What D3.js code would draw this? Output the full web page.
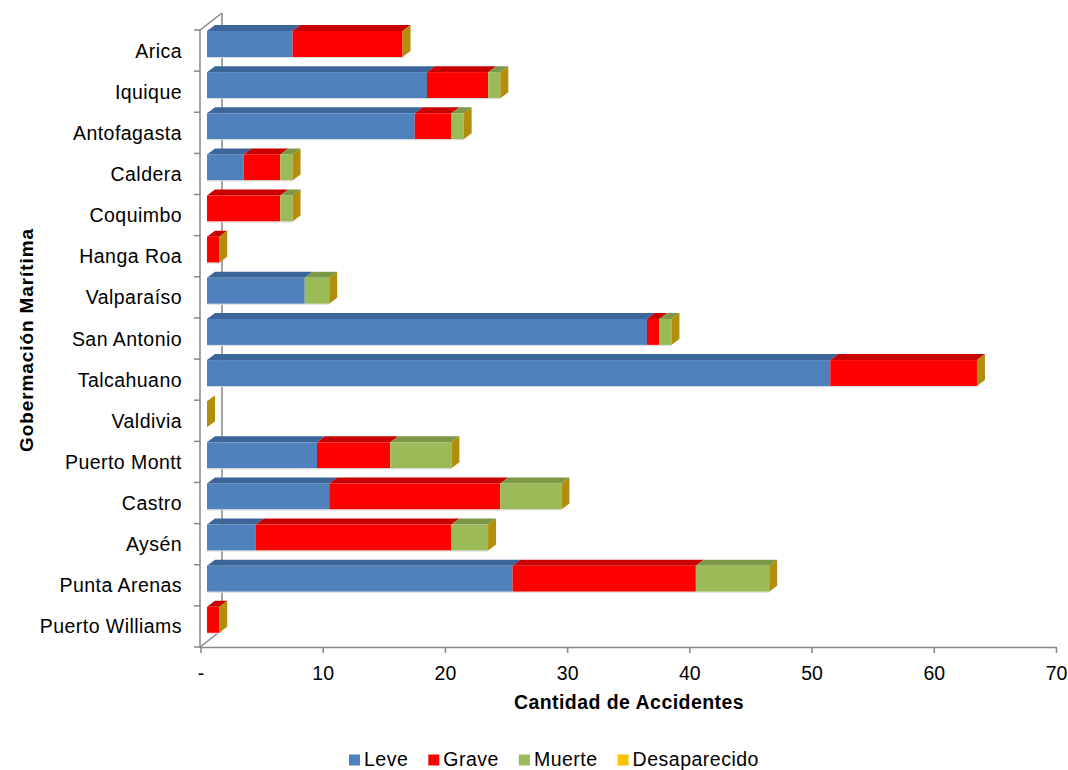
<!DOCTYPE html>
<html>
<head>
<meta charset="utf-8">
<script src="https://cdn.jsdelivr.net/npm/d3@7"></script>
<style>
  html, body { margin: 0; padding: 0; background: #fff; }
  svg { display: block; font-family: Arial, "Liberation Sans", sans-serif; }
</style>
</head>
<body>
<svg id="chart" width="1068" height="770"></svg>
<script>
// ---- data ----
const categories = ["Arica","Iquique","Antofagasta","Caldera","Coquimbo","Hanga Roa","Valparaíso","San Antonio","Talcahuano","Valdivia","Puerto Montt","Castro","Aysén","Punta Arenas","Puerto Williams"];
const seriesNames = ["Leve","Grave","Muerte","Desaparecido"];
const leve        = [7, 18, 17, 3, 0, 0, 8, 36, 51, 0, 9, 10, 4, 25, 0];
const grave       = [9,  5,  3, 3, 6, 1, 0,  1, 12, 0, 6, 14, 16, 15, 1];
const muerte      = [0,  1,  1, 1, 1, 0, 2,  1,  0, 0, 5,  5,  3,  6, 0];
const desaparecido= [0,  0,  0, 0, 0, 0, 0,  0,  0, 0, 0,  0,  0,  0, 0];
const xTicks = [0, 10, 20, 30, 40, 50, 60, 70];
const xTickLabels = ["-", "10", "20", "30", "40", "50", "60", "70"];
const xTitle = "Cantidad de Accidentes";
const yTitle = "Gobermación Marítima";

// ---- styles ----
const frontColors = ["#4F81BD", "#FF0000", "#9BBB59", "#FFC000"];
const topColors   = ["#3C659A", "#C80000", "#7C9847", "#CC9A00"];
const sideColor   = "#B38D0C";
const axisColor   = "#868686";

const svg = d3.select("#chart");
const series = [leve, grave, muerte, desaparecido];

const table = categories.map((c, i) => {
  const o = { cat: c };
  seriesNames.forEach((s, j) => o[s] = series[j][i]);
  return o;
});
const stacked = d3.stack().keys(seriesNames)(table);

const x = d3.scaleLinear().domain([0, 70]).range([201, 1056.5]);
const y = d3.scaleBand().domain(categories).range([30, 647]).paddingInner(0).paddingOuter(0);

const depthX = 22, depthY = -17;     // wall depth
const barShift = 6;                  // bar plane offset from front axis
const bdx = 8, bdy = -6;             // bar depth
const barTop = 1, barH = 26;

// back wall line + diagonals
const g = svg.append("g");
g.append("line").attr("x1", 200 + depthX).attr("x2", 200 + depthX)
  .attr("y1", 30 + depthY).attr("y2", 647 + depthY)
  .attr("stroke", axisColor).attr("stroke-width", 1.5);
g.append("line").attr("x1", 200).attr("y1", 30).attr("x2", 200 + depthX).attr("y2", 30 + depthY)
  .attr("stroke", axisColor).attr("stroke-width", 1.5);
g.append("line").attr("x1", 200).attr("y1", 647).attr("x2", 200 + depthX).attr("y2", 647 + depthY)
  .attr("stroke", axisColor).attr("stroke-width", 1.5);

// bars
const bars = svg.append("g");
categories.forEach((c, i) => {
  const top = y(c) + barTop;
  const bg = bars.append("g");
  stacked.forEach((layer, j) => {
    const d = layer[i];
    const x0 = x(d[0]) + barShift, x1 = x(d[1]) + barShift;
    if (x1 - x0 <= 0) return;
    bg.append("path")
      .attr("d", `M${x0},${top} L${x0 + bdx},${top + bdy} L${x1 + bdx},${top + bdy} L${x1},${top} Z`)
      .attr("fill", topColors[j]);
    bg.append("rect").attr("x", x0).attr("y", top).attr("width", x1 - x0).attr("height", barH)
      .attr("fill", frontColors[j]);
  });
  const endV = stacked[stacked.length - 1][i][1];
  const xe = x(endV) + barShift;
  bg.append("path")
    .attr("d", `M${xe},${top} L${xe + bdx},${top + bdy} L${xe + bdx},${top + bdy + barH} L${xe},${top + barH} Z`)
    .attr("fill", sideColor);
  bg.append("line").attr("x1", x(0) + barShift).attr("x2", xe).attr("y1", top + barH + 0.5).attr("y2", top + barH + 0.5)
    .attr("stroke", "#d9d9d9").attr("stroke-width", 1);
});

// y axis (front)
const yAxisG = svg.append("g");
yAxisG.append("line").attr("x1", 200).attr("x2", 200).attr("y1", 30).attr("y2", 647)
  .attr("stroke", axisColor).attr("stroke-width", 1.5);
const yBounds = categories.map(c => y(c)).concat([647]);
yAxisG.selectAll("line.tick").data(yBounds).enter().append("line")
  .attr("class", "tick").attr("x1", 194).attr("x2", 200)
  .attr("y1", d => d).attr("y2", d => d)
  .attr("stroke", axisColor).attr("stroke-width", 1.5);
yAxisG.selectAll("text").data(categories).enter().append("text")
  .attr("x", 182).attr("y", d => y(d) + y.bandwidth() / 2 + 7)
  .attr("text-anchor", "end").attr("font-size", 19.5).attr("letter-spacing", 0.45)
  .attr("fill", "#000").text(d => d);

// x axis
const xAxisG = svg.append("g");
xAxisG.append("line").attr("x1", 200).attr("x2", 1057).attr("y1", 647.5).attr("y2", 647.5)
  .attr("stroke", axisColor).attr("stroke-width", 1.5);
xAxisG.selectAll("line.tick").data(xTicks).enter().append("line")
  .attr("class", "tick").attr("x1", d => x(d)).attr("x2", d => x(d))
  .attr("y1", 647.5).attr("y2", 653).attr("stroke", axisColor).attr("stroke-width", 1.5);
xAxisG.selectAll("text").data(xTicks).enter().append("text")
  .attr("x", d => x(d)).attr("y", 680).attr("text-anchor", "middle")
  .attr("font-size", 19.5).attr("fill", "#000").text((d, i) => xTickLabels[i]);

// titles
svg.append("text").attr("x", 629).attr("y", 708.5).attr("text-anchor", "middle")
  .attr("font-size", 19.5).attr("font-weight", "bold").attr("letter-spacing", 0.45)
  .text(xTitle);
svg.append("text").attr("transform", "translate(33,340) rotate(-90)").attr("text-anchor", "middle")
  .attr("font-size", 19).attr("font-weight", "bold").attr("letter-spacing", 0.9)
  .text(yTitle);

// legend
const leg = svg.append("g");
let lx = 349;
seriesNames.forEach((s, j) => {
  leg.append("rect").attr("x", lx).attr("y", 754.5).attr("width", 11).attr("height", 11).attr("fill", frontColors[j]);
  const t = leg.append("text").attr("x", lx + 15).attr("y", 766).attr("font-size", 19.5)
    .attr("letter-spacing", 0.5).attr("fill", "#000").text(s);
  lx += 15 + t.node().getComputedTextLength() + 20;
});
</script>
</body>
</html>
